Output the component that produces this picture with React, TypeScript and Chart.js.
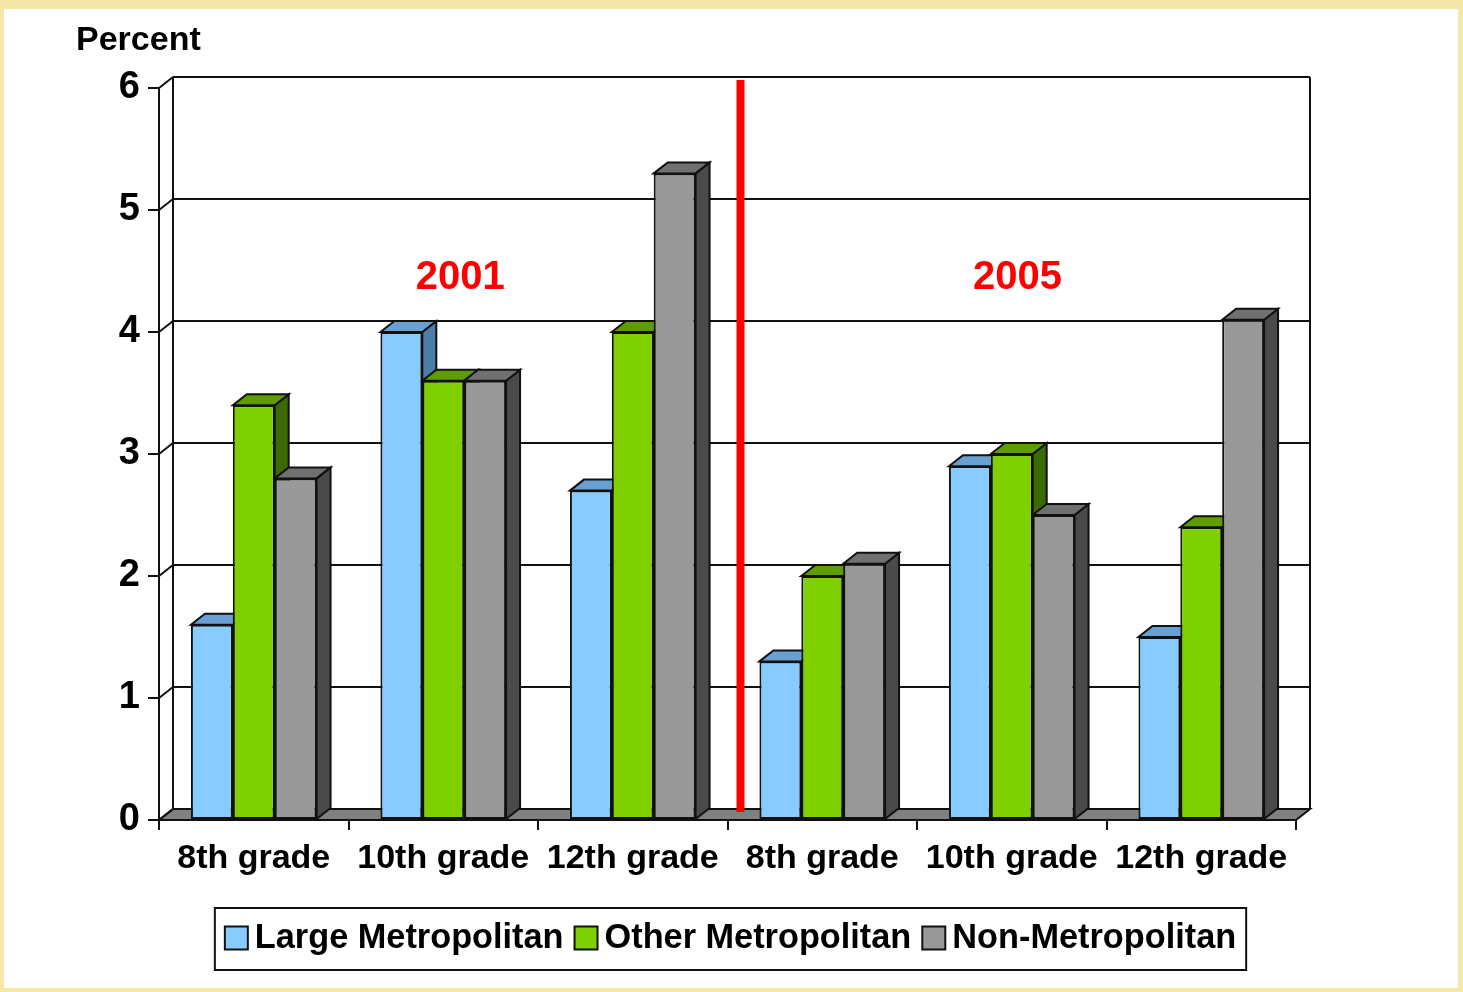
import React, { useEffect, useRef } from "react";
import { Chart, registerables } from "chart.js";

Chart.register(...registerables);

// ---------- data ----------
const categories = ["8th grade", "10th grade", "12th grade", "8th grade", "10th grade", "12th grade"];
const seriesNames = ["Large Metropolitan", "Other Metropolitan", "Non-Metropolitan"];
const largeMetro = [1.6, 4.0, 2.7, 1.3, 2.9, 1.5];
const otherMetro = [3.4, 3.6, 4.0, 2.0, 3.0, 2.4];
const nonMetro = [2.8, 3.6, 5.3, 2.1, 2.5, 4.1];
const yTicks = [0, 1, 2, 3, 4, 5, 6];
const yearLabels = ["2001", "2005"];
const yearLabelCategory = [1.09, 4.03];
const yearLabelValue = [4.44, 4.44];
const dividerAfter = 2; // red divider between index 2 and 3

// ---------- styles ----------
const FONT = "'Liberation Sans', Arial, Helvetica, sans-serif";
const frontColors = ["#88CCFF", "#80D000", "#999999"];
const topColors = ["#6A9FD2", "#5E9C00", "#707070"];
const sideColors = ["#4C7CA8", "#3D6A00", "#4A4A4A"];
const DX = 14;
const DY = 11;

function line(ctx: CanvasRenderingContext2D, x1: number, y1: number, x2: number, y2: number) {
  ctx.beginPath();
  ctx.moveTo(x1, y1);
  ctx.lineTo(x2, y2);
  ctx.stroke();
}

function poly(ctx: CanvasRenderingContext2D, pts: number[][], fill: string) {
  ctx.beginPath();
  ctx.moveTo(pts[0][0], pts[0][1]);
  for (let i = 1; i < pts.length; i++) ctx.lineTo(pts[i][0], pts[i][1]);
  ctx.closePath();
  ctx.fillStyle = fill;
  ctx.fill();
  ctx.stroke();
}

const threeDPlugin = {
  id: "threeD",
  beforeDraw(chart: any) {
    const ctx = chart.ctx as CanvasRenderingContext2D;
    ctx.save();
    ctx.fillStyle = "#F5E7A7";
    ctx.fillRect(0, 0, chart.width, chart.height);
    ctx.fillStyle = "#FFFFFF";
    ctx.fillRect(4, 9, 1454, 979);
    ctx.restore();
  },
  beforeDatasetsDraw(chart: any) {
    const ctx = chart.ctx as CanvasRenderingContext2D;
    const ca = chart.chartArea;
    const xs = chart.scales.x;
    const ys = chart.scales.y;
    const b = ys.getPixelForValue(0);
    ctx.save();
    ctx.lineWidth = 2;
    ctx.strokeStyle = "#111111";
    ctx.lineJoin = "miter";
    // floor
    poly(ctx, [[ca.left, b], [ca.right, b], [ca.right + DX, b - DY], [ca.left + DX, b - DY]], "#808080");
    // back wall & left wall
    for (const v of yTicks) {
      const py = ys.getPixelForValue(v);
      line(ctx, ca.left, py, ca.left + DX, py - DY);
      if (v > 0) line(ctx, ca.left + DX, py - DY, ca.right + DX, py - DY);
    }
    line(ctx, ca.left + DX, ca.top - DY, ca.left + DX, b - DY);
    line(ctx, ca.right + DX, ca.top - DY, ca.right + DX, b - DY);
    // red divider
    const rx = (xs.getPixelForValue(dividerAfter) + xs.getPixelForValue(dividerAfter + 1)) / 2 + DX - 1;
    ctx.strokeStyle = "#FF0000";
    ctx.lineWidth = 8;
    ctx.lineCap = "butt";
    line(ctx, rx, ca.top - DY + 3, rx, b - DY + 3);
    // bar side & top faces
    ctx.strokeStyle = "#111111";
    ctx.lineWidth = 2;
    const n = chart.data.datasets.length;
    for (let j = 0; j < categories.length; j++) {
      for (let i = 0; i < n; i++) {
        const el = chart.getDatasetMeta(i).data[j];
        if (!el) continue;
        const p = el.getProps(["x", "y", "base", "width"], true);
        const l = p.x - p.width / 2;
        const r = p.x + p.width / 2;
        const t = p.y;
        const bb = p.base;
        poly(ctx, [[r, t], [r + DX, t - DY], [r + DX, bb - DY], [r, bb]], sideColors[i]);
        poly(ctx, [[l, t], [l + DX, t - DY], [r + DX, t - DY], [r, t]], topColors[i]);
      }
    }
    ctx.restore();
  },
  afterDatasetsDraw(chart: any) {
    const ctx = chart.ctx as CanvasRenderingContext2D;
    const xs = chart.scales.x;
    const ys = chart.scales.y;
    ctx.save();
    ctx.fillStyle = "#FF0000";
    ctx.font = `bold 40px ${FONT}`;
    ctx.textAlign = "center";
    ctx.textBaseline = "middle";
    yearLabels.forEach((t, k) => {
      ctx.fillText(t, xs.getPixelForValue(yearLabelCategory[k]), ys.getPixelForValue(yearLabelValue[k]));
    });
    ctx.restore();
  },
  afterDraw(chart: any) {
    // custom legend
    const ctx = chart.ctx as CanvasRenderingContext2D;
    const ca = chart.chartArea;
    ctx.save();
    ctx.font = `bold 34.3px ${FONT}`;
    const box = 23;
    const gapText = 7;
    const gapItem = 11;
    const pad = 10;
    const labels = chart.data.datasets.map((d: any) => d.label as string);
    const widths = labels.map((l: string) => ctx.measureText(l).width);
    let total = 0;
    widths.forEach((w: number, i: number) => {
      total += box + gapText + w + (i < widths.length - 1 ? gapItem : 0);
    });
    const boxW = total + pad * 2;
    const cx = (ca.left + ca.right) / 2 + 3;
    const left = cx - boxW / 2;
    const top = 908;
    const h = 62;
    ctx.lineWidth = 2;
    ctx.strokeStyle = "#111111";
    ctx.strokeRect(left, top, boxW, h);
    const cy = top + h / 2 - 1;
    let xx = left + pad;
    ctx.textBaseline = "middle";
    ctx.textAlign = "left";
    labels.forEach((l: string, i: number) => {
      ctx.fillStyle = chart.data.datasets[i].backgroundColor;
      ctx.fillRect(xx, cy - box / 2, box, box);
      ctx.strokeRect(xx, cy - box / 2, box, box);
      xx += box + gapText;
      ctx.fillStyle = "#000000";
      ctx.fillText(l, xx, cy + 1);
      xx += widths[i] + gapItem;
    });
    ctx.restore();
  },
};

export default function App() {
  const ref = useRef<HTMLCanvasElement | null>(null);

  useEffect(() => {
    if (!ref.current) return;
    const seriesValues = [largeMetro, otherMetro, nonMetro];
    const chart = new Chart(ref.current, {
      type: "bar",
      data: {
        labels: categories,
        datasets: seriesNames.map((name, i) => ({
          label: name,
          data: seriesValues[i],
          backgroundColor: frontColors[i],
          borderColor: "#111111",
          borderWidth: 2,
          borderSkipped: false,
          barPercentage: 1.0,
          categoryPercentage: 0.663,
        })),
      },
      options: {
        responsive: false,
        animation: false,
        layout: { padding: { left: 76, right: 167, top: 0, bottom: 0 } },
        plugins: {
          legend: { display: false },
          tooltip: { enabled: false },
          title: {
            display: true,
            text: "Percent",
            align: "start",
            color: "#000000",
            font: { family: FONT, size: 34, weight: "bold" },
            padding: { top: 20.6, bottom: 26.6 },
          },
        },
        scales: {
          x: {
            offset: true,
            grid: { display: true, drawOnChartArea: false, drawTicks: true, tickLength: 10, color: "#111111", lineWidth: 2 },
            border: { display: true, color: "#111111", width: 2 },
            ticks: { color: "#000000", font: { family: FONT, size: 34, weight: "bold" }, padding: 8, maxRotation: 0, autoSkip: false },
            afterFit: (s: any) => {
              s.height = 172;
            },
          },
          y: {
            min: 0,
            max: 6,
            ticks: { stepSize: 1, color: "#000000", font: { family: FONT, size: 38, weight: "bold" }, padding: 8 },
            grid: { display: true, drawOnChartArea: false, drawTicks: true, tickLength: 11, color: "#111111", lineWidth: 2 },
            border: { display: true, color: "#111111", width: 2 },
            afterFit: (s: any) => {
              s.width = 83;
            },
          },
        },
      },
      plugins: [threeDPlugin],
    });
    return () => chart.destroy();
  }, []);

  return (
    <div style={{ position: "absolute", left: 0, top: 0, width: 1463, height: 992 }}>
      <canvas ref={ref} width={1463} height={992} style={{ display: "block", width: 1463, height: 992 }} />
    </div>
  );
}
